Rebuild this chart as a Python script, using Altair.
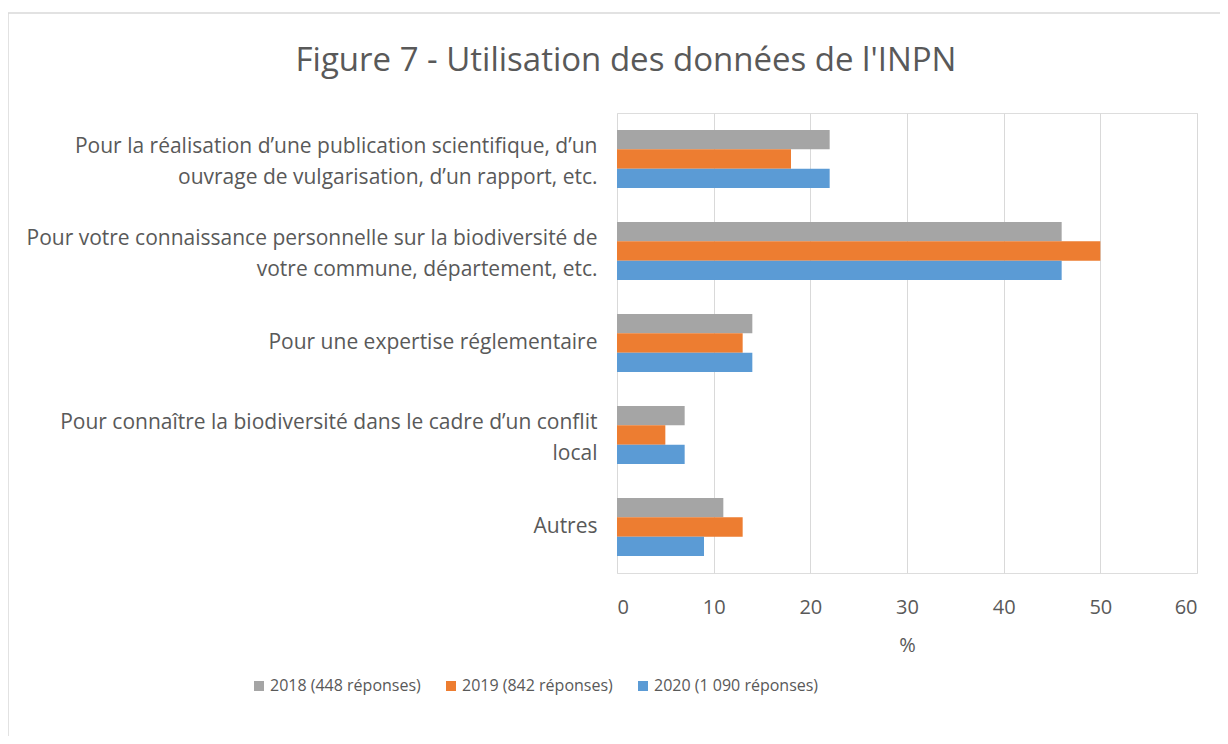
import altair as alt
import pandas as pd

categories = [
    "Pour la réalisation d’une publication scientifique, d’un|ouvrage de vulgarisation, d’un rapport, etc.",
    "Pour votre connaissance personnelle sur la biodiversité de|votre commune, département, etc.",
    "Pour une expertise réglementaire",
    "Pour connaître la biodiversité dans le cadre d’un conflit|local",
    "Autres",
]
series = ["2018 (448 réponses)", "2019 (842 réponses)", "2020 (1 090 réponses)"]
values_2018 = [22, 46, 14, 7, 11]
values_2019 = [18, 50, 13, 5, 13]
values_2020 = [22, 46, 14, 7, 9]
colors = ["#A5A5A5", "#ED7D31", "#5B9BD5"]
x_ticks = [0, 10, 20, 30, 40, 50, 60]

rows = []
for s, vals in zip(series, [values_2018, values_2019, values_2020]):
    for c, v in zip(categories, vals):
        rows.append({"cat": c, "serie": s, "val": v})
df = pd.DataFrame(rows)

FONT = "Open Sans"
TXT = "#595959"

bars = alt.Chart(df).mark_bar().encode(
    x=alt.X("val:Q", scale=alt.Scale(domain=[0, 60], nice=False),
            axis=alt.Axis(values=x_ticks, title="%", grid=True, gridColor="#D9D9D9",
                          gridWidth=1, domain=False, ticks=False, labelFontSize=20,
                          labelColor=TXT, labelPadding=24, titleFontSize=20,
                          titleColor=TXT, titleFontWeight="normal", titlePadding=18,
                          labelFont=FONT, titleFont=FONT)),
    y=alt.Y("cat:N", sort=categories, title=None,
            scale=alt.Scale(paddingInner=0.37, paddingOuter=0.185),
            axis=alt.Axis(labelExpr="split(datum.label, '|')", labelFontSize=21,
                          labelColor=TXT, labelLimit=800, labelPadding=20,
                          labelLineHeight=31, domain=False, ticks=False,
                          labelOffset={"condition": {"test": "indexof(datum.label, '|') >= 0",
                                                     "value": -12}, "value": 0},
                          labelFont=FONT, grid=False)),
    yOffset=alt.YOffset("serie:N", sort=series),
    color=alt.Color("serie:N", sort=series,
                    scale=alt.Scale(domain=series, range=colors),
                    legend=alt.Legend(title=None, orient="none", legendX=-366,
                                      legendY=565, direction="horizontal",
                                      symbolType="square", symbolSize=100,
                                      symbolStrokeWidth=0, labelFontSize=16,
                                      labelColor=TXT, labelFont=FONT, labelLimit=400,
                                      columnPadding=22, labelOffset=3)),
)

border = alt.Chart(pd.DataFrame({"a": [0]})).mark_rect(
    filled=False, stroke="#D9D9D9", strokeWidth=1.5
).encode(x=alt.value(-609), x2=alt.value(620), y=alt.value(-100), y2=alt.value(640))

chart = alt.layer(border, bars).properties(
    width=580, height=460,
    autosize=alt.AutoSizeParams(type="none"),
    padding={"left": 609, "top": 105, "right": 23, "bottom": 163},
    title=alt.TitleParams("Figure 7 - Utilisation des données de l'INPN", anchor="middle",
                          dx=-281, offset=0, dy=66, fontSize=33,
                          font=FONT, color=TXT, fontWeight="normal"),
).configure_view(stroke=None).configure(background="white")

chart.save("out.html", embed_options={"renderer": "svg", "actions": False})
